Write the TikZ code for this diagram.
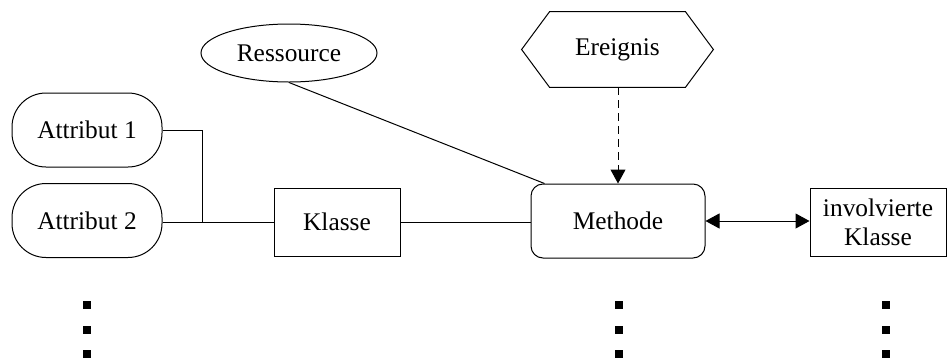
\documentclass[tikz,border=0pt]{standalone}
\usepackage{fontspec}
\setmainfont{Liberation Serif}
\usetikzlibrary{arrows.meta,shapes.geometric}
\begin{document}
\begin{tikzpicture}[x=0.5pt,y=-0.5pt,
  every node/.style={font=\fontsize{12.7}{14.5}\selectfont, inner sep=0pt},
  line/.style={draw=black, line width=0.5pt},
  attr/.style={line, rounded corners=17pt, minimum width=75pt, minimum height=37pt},
  cls/.style={line, minimum width=63pt, minimum height=34pt, align=center},
  meth/.style={line, rounded corners=6pt, minimum width=87pt, minimum height=37pt},
  res/.style={line, ellipse, minimum width=88pt, minimum height=29pt},
  dot/.style={fill=black, minimum size=4pt},
  >={Triangle[length=7pt,width=7.5pt]}
]
\useasboundingbox (0,0) rectangle (948,360);

% nodes
\node[attr] (a1) at (87,130) {Attribut 1};
\node[attr] (a2) at (87,220.5) {Attribut 2};
\node[cls] (kl) at (337,222) {Klasse};
\node[meth] (me) at (618,221) {Methode};
\node[cls, minimum width=68pt] (ik) at (878,222) {involvierte\\Klasse};
\node[res] (rs) at (289,53) {Ressource};
\node[minimum width=95.5pt, minimum height=37.5pt] (ev) at (617.5,49.5) {Ereignis};
\draw[line] ([xshift=14pt]ev.north west) -- ([xshift=-14pt]ev.north east) -- (ev.east)
  -- ([xshift=-14pt]ev.south east) -- ([xshift=14pt]ev.south west) -- (ev.west) -- cycle;

% junction of the attributes
\coordinate (j) at (202,222);

% connectors
\draw[line] (a1.east) -| (j);
\draw[line] (a2.east |- j) -- (kl.west);
\draw[line] (kl.east) -- (me.west |- kl.east);
\draw[line] (rs.south) -- ([xshift=7pt]me.north west);
\draw[line, dash pattern=on 4pt off 2.5pt, ->] (ev.south -| me.north) -- (me.north);
\draw[line, <->] (me.east) -- (ik.west |- me.east);

% continuation marks
\foreach \x/\n in {87/l,619/m,886/r}{
  \node[dot] (\n1) at (\x,305) {};
  \node[dot] (\n2) at (\x,330) {};
  \node[dot] (\n3) at (\x,354) {};
}
\end{tikzpicture}
\end{document}
